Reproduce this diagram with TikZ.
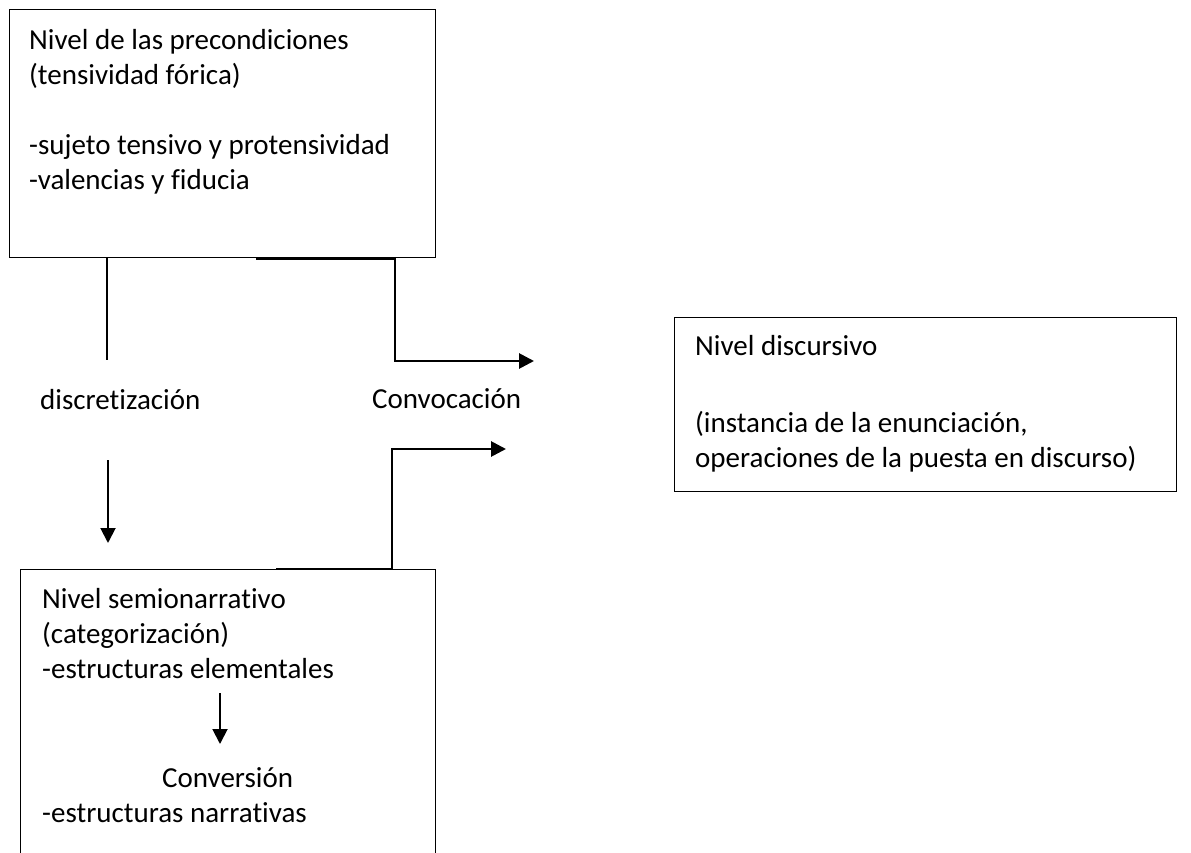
\documentclass[tikz,border=0pt]{standalone}
\usepackage{fontspec}
\setmainfont[Ligatures={NoCommon}]{Carlito}
\usetikzlibrary{arrows.meta}
\begin{document}
\begin{tikzpicture}[x=1pt,y=-1pt,
  box/.style={draw=black,line width=1.4pt,rectangle,inner sep=0pt,anchor=north west},
  txt/.style={anchor=base west,inner sep=0pt,font=\fontsize{29}{35}\selectfont},
  thinconn/.style={line width=1.6pt},
  arrconn/.style={line width=1.9pt,-{Triangle[length=15pt,width=15pt]}},
  thickconn/.style={line width=2.8pt,-{Triangle[length=15pt,width=15pt]}}]
\useasboundingbox (0,0) rectangle (1191,853);
\clip (0,0) rectangle (1191,853);
\fill[white] (0,0) rectangle (1191,853);
% boxes
\node[box,minimum width=426pt,minimum height=248pt] (b1) at (9,9) {};
\node[box,minimum width=502pt,minimum height=174pt] (b2) at (674,317) {};
\node[box,minimum width=415pt,minimum height=300pt] (b3) at (20,569) {};
% box 1 text
\node[txt] (t1a) at (29,50) {Nivel de las precondiciones};
\node[txt] (t1b) at (29,85) {(tensividad fórica)};
\node[txt] (t1c) at (29,155) {-sujeto tensivo y protensividad};
\node[txt] (t1d) at (29,190) {-valencias y fiducia};
% box 2 text
\node[txt] (t2a) at (695,355) {Nivel discursivo};
\node[txt] (t2b) at (695,432) {(instancia de la enunciación,};
\node[txt] (t2c) at (695,467) {operaciones de la puesta en discurso)};
% box 3 text
\node[txt] (t3a) at (42,608) {Nivel semionarrativo};
\node[txt] (t3b) at (42,643) {(categorización)};
\node[txt] (t3c) at (42,678) {-estructuras elementales};
\node[txt] (t3d) at (162,787) {Conversión};
\node[txt] (t3e) at (42,822) {-estructuras narrativas};
% labels
\node[txt] (ldisc) at (40,409) {discretización};
\node[txt] (lconv) at (372,408) {Convocación};
% coordinates
\coordinate (d1) at (107,360);
\coordinate (d2) at (108,460);
\coordinate (d3) at (108,543);
\coordinate (c0) at (256,0);
\coordinate (c1) at (395,361);
\coordinate (c2) at (534,361);
\coordinate (e0) at (276,0);
\coordinate (e1) at (392,449);
\coordinate (e2) at (506,449);
\coordinate (i1) at (220,693);
\coordinate (i2) at (220,744);
% connectors
\draw[thinconn] (b1.south -| d1) -- (d1);
\draw[arrconn] (d2) -- (d3);
\draw[thickconn] (b1.south -| c0) -- (b1.south -| c1) -- (c1) -- (c2);
\draw[thickconn] (b3.north -| e0) -- (b3.north -| e1) -- (e1) -- (e2);
\draw[arrconn] (i1) -- (i2);
\end{tikzpicture}
\end{document}
